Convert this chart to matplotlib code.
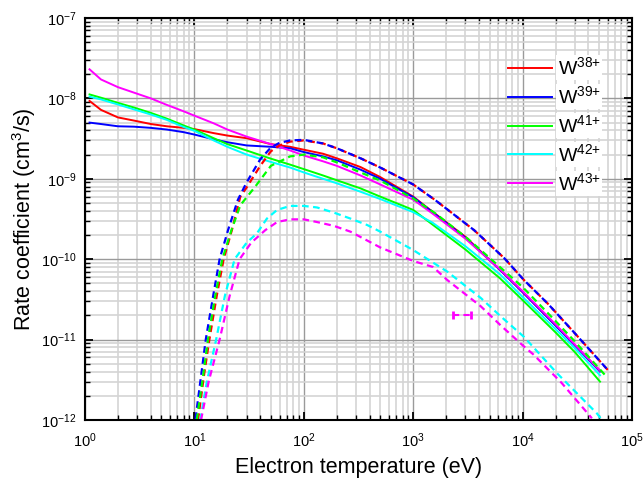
import matplotlib
matplotlib.use('Agg')
import matplotlib.pyplot as plt

plt.rcParams['font.family'] = ['Liberation Sans', 'DejaVu Sans']
plt.rcParams['mathtext.fontset'] = 'custom'
plt.rcParams['mathtext.rm'] = 'Liberation Sans'
plt.rcParams['mathtext.it'] = 'Liberation Sans'

# ion labels and colours
ions = ['W$^{38{+}}$', 'W$^{39{+}}$', 'W$^{41{+}}$', 'W$^{42{+}}$', 'W$^{43{+}}$']
colors = ['#ff0000', '#0000ff', '#00ff00', '#00ffff', '#ff00ff']

# solid curves, electron temperature (eV)
T_solid = [1.1, 1.4, 2, 2.8, 4, 5.6, 8, 10, 15, 20, 30, 50, 75, 100, 150, 200,
           330, 500, 1000, 1500, 3000, 6200, 1e4, 2e4, 3e4, 5.1e4]
k38_solid = [9.3e-9, 7.2e-9, 5.8e-9, 5.3e-9, 4.8e-9, 4.5e-9, 4.3e-9, 4.15e-9, 3.7e-9, 3.45e-9,
             3.2e-9, 2.7e-9, 2.5e-9, 2.3e-9, 2.05e-9, 1.8e-9, 1.4e-9, 1.05e-9, 6.0e-10, 3.9e-10,
             1.9e-10, 7.4e-11, 3.9e-11, 1.5e-11, 8.5e-12, 4.1e-12]
k39_solid = [5.0e-9, 4.8e-9, 4.5e-9, 4.45e-9, 4.3e-9, 4.1e-9, 3.8e-9, 3.55e-9, 3.1e-9, 2.85e-9,
             2.6e-9, 2.5e-9, 2.4e-9, 2.15e-9, 1.9e-9, 1.7e-9, 1.3e-9, 1.0e-9, 5.9e-10, 3.85e-10,
             1.85e-10, 7.4e-11, 3.9e-11, 1.5e-11, 8.5e-12, 4.0e-12]
k41_solid = [1.12e-8, 1.02e-8, 8.8e-9, 7.7e-9, 6.6e-9, 5.6e-9, 4.6e-9, 4.1e-9, 3.2e-9, 2.7e-9,
             2.25e-9, 1.78e-9, 1.5e-9, 1.32e-9, 1.1e-9, 9.6e-10, 7.6e-10, 6.0e-10, 4.1e-10, 2.7e-10,
             1.32e-10, 5.8e-11, 3.1e-11, 1.23e-11, 7.0e-12, 3.0e-12]
k42_solid = [1.05e-8, 9.7e-9, 8.4e-9, 7.3e-9, 6.3e-9, 5.4e-9, 4.4e-9, 3.95e-9, 3.0e-9, 2.5e-9,
             2.0e-9, 1.62e-9, 1.38e-9, 1.2e-9, 1.0e-9, 8.8e-10, 6.9e-10, 5.6e-10, 3.85e-10, 2.85e-10,
             1.45e-10, 6.5e-11, 3.4e-11, 1.35e-11, 7.8e-12, 3.6e-12]
k43_solid = [2.3e-8, 1.72e-8, 1.38e-8, 1.18e-8, 1.0e-8, 8.3e-9, 6.9e-9, 6.1e-9, 4.9e-9, 4.1e-9,
             3.35e-9, 2.7e-9, 2.25e-9, 1.95e-9, 1.65e-9, 1.45e-9, 1.1e-9, 8.5e-10, 5.5e-10, 3.7e-10,
             1.8e-10, 7.5e-11, 4.0e-11, 1.55e-11, 8.7e-12, 4.1e-12]

# dashed curves
T38_dash = [10.8, 12.2, 13.7, 16, 18.5, 22, 26.3, 30, 40, 50, 60, 75, 100, 150, 200, 330, 500,
            1000, 1600, 3600, 6800, 1.03e4, 1.7e4, 3e4, 6e4]
k38_dash = [1e-12, 3.5e-12, 1e-11, 3.5e-11, 1e-10, 2.3e-10, 6e-10, 7.8e-10, 1.45e-9, 2.2e-9,
            2.6e-9, 2.9e-9, 3.0e-9, 2.75e-9, 2.4e-9, 1.8e-9, 1.38e-9, 8.5e-10, 5.4e-10, 2.3e-10,
            1.03e-10, 5.5e-11, 2.8e-11, 1.2e-11, 4.2e-12]
T39_dash = [10.2, 11.5, 12.7, 15, 17, 20.3, 25, 30, 40, 50, 60, 75, 100, 150, 200, 330, 500,
            1000, 1600, 3600, 6800, 1.03e4, 1.7e4, 3e4, 6e4]
k39_dash = [1e-12, 3.5e-12, 1e-11, 3.8e-11, 1e-10, 2.3e-10, 5.5e-10, 9e-10, 1.75e-9, 2.45e-9,
            2.8e-9, 3.0e-9, 3.05e-9, 2.75e-9, 2.4e-9, 1.8e-9, 1.38e-9, 8.5e-10, 5.4e-10, 2.3e-10,
            1.03e-10, 5.5e-11, 2.8e-11, 1.2e-11, 4.2e-12]
T41_dash = [10.5, 12, 13.3, 15.5, 18, 21.8, 26.3, 36, 50, 75, 100, 150, 200, 330, 500, 1000,
            1600, 3150, 6200, 1e4, 2e4, 3e4, 5.8e4]
k41_dash = [1e-12, 3.5e-12, 1e-11, 3.5e-11, 1e-10, 2.3e-10, 4.7e-10, 8e-10, 1.45e-9, 1.9e-9,
            2.0e-9, 1.85e-9, 1.6e-9, 1.2e-9, 9.5e-10, 5.7e-10, 3.7e-10, 1.8e-10, 8e-11, 4.5e-11,
            1.7e-11, 9.5e-12, 3.5e-12]
T42_dash = [11.3, 13, 15.8, 19, 23.3, 30, 37.3, 46, 57, 75, 100, 132, 188, 267, 380, 500, 1000,
            2050, 4140, 6300, 1.03e4, 2.07e4, 4.8e4, 5.3e4]
k42_dash = [1e-12, 3e-12, 1e-11, 3.5e-11, 1e-10, 1.6e-10, 2.1e-10, 3.2e-10, 4.1e-10, 4.6e-10,
            4.6e-10, 4.4e-10, 3.8e-10, 3.2e-10, 2.66e-10, 2.2e-10, 1.3e-10, 7e-11, 3.3e-11,
            1.95e-11, 1.08e-11, 3.8e-12, 1.2e-12, 1e-12]
T43_dash = [11.5, 13.5, 17, 21, 25.9, 33, 44.5, 57, 75, 100, 132, 188, 267, 500, 770, 1000,
            1520, 2050, 4140, 6310, 1e4, 1.26e4, 2.27e4, 4.3e4]
k43_dash = [1e-12, 3e-12, 1e-11, 3.5e-11, 1e-10, 1.6e-10, 2.3e-10, 2.9e-10, 3.13e-10, 3.13e-10,
            2.9e-10, 2.6e-10, 2.2e-10, 1.4e-10, 1.1e-10, 9.5e-11, 8e-11, 5.5e-11, 2.6e-11,
            1.5e-11, 8.5e-12, 6.5e-12, 2.9e-12, 1.05e-12]

# single measured point with temperature range
T_exp = 2775
T_exp_lo = 2296
T_exp_hi = 3355
k_exp = 2.02e-11

solid = [k38_solid, k39_solid, k41_solid, k42_solid, k43_solid]
dashed = [(T38_dash, k38_dash), (T39_dash, k39_dash), (T41_dash, k41_dash),
          (T42_dash, k42_dash), (T43_dash, k43_dash)]

fig = plt.figure(figsize=(6.44, 4.79), dpi=100)
ax = fig.add_axes([85 / 644, 59 / 479, 547 / 644, 402 / 479])
ax.set_xscale('log')
ax.set_yscale('log')

handles = []
for k, c, lab in zip(solid, colors, ions):
    h, = ax.plot(T_solid, k, color=c, lw=1.4, label=lab)
    handles.append(h)

offsets = [0, 4.5, 0, 0, 0]
for (T, k), c, off in zip(dashed, colors, offsets):
    ax.plot(T, k, color=c, lw=1.6, linestyle=(off, (3, 2)))

eb = ax.errorbar([T_exp], [k_exp], xerr=[[T_exp - T_exp_lo], [T_exp_hi - T_exp]],
                 fmt='none', ecolor='#ff00ff', elinewidth=1.5, capsize=3, capthick=2)
eb[2][0].set_linestyle((0, (3, 2)))

ax.set_xlim(1, 1e5)
ax.set_ylim(1e-12, 1e-7)

ax.set_axisbelow(True)
ax.grid(which='minor', color='#d4d4d4', lw=1.2)
ax.grid(which='major', color='#9a9a9a', lw=1.0)

ax.tick_params(which='both', direction='in', top=True, right=True, labelsize=10.5)
ax.tick_params(axis='x', which='major', pad=8)
ax.tick_params(axis='y', which='major', pad=6)
ax.tick_params(which='major', length=6, width=1.3)
ax.tick_params(which='minor', length=3.5, width=1.0)
for s in ax.spines.values():
    s.set_linewidth(1.5)

ax.set_xlabel('Electron temperature (eV)', fontsize=15.5, labelpad=5)
ax.set_ylabel('Rate coefficient (cm$^3$/s)', fontsize=15.5, labelpad=2)

leg = ax.legend(handles=handles, loc='upper left', bbox_to_anchor=(0.756, 0.928),
                frameon=False, fontsize=14, handlelength=2.25, handletextpad=0.3,
                labelspacing=0.36, borderpad=0)
for t in leg.get_texts():
    t.set_bbox(dict(facecolor='white', edgecolor='none', pad=1))

fig.savefig('out.png', dpi=100)
